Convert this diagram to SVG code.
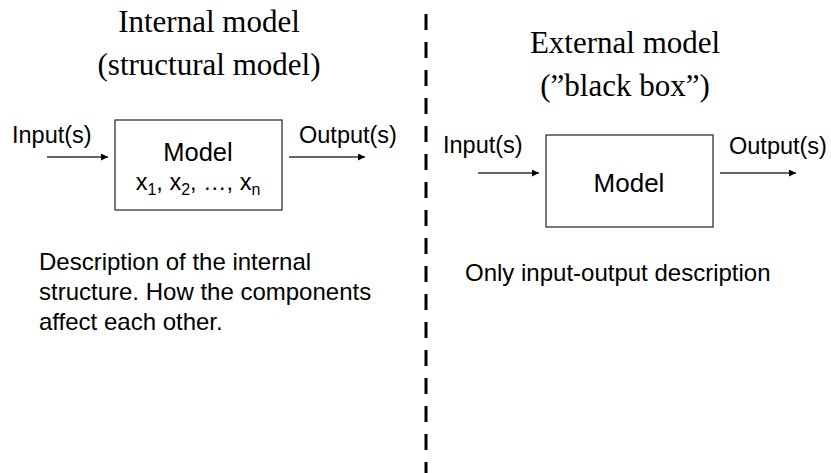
<svg xmlns="http://www.w3.org/2000/svg" width="831" height="473" viewBox="0 0 831 473">
<defs>
<style>
.serif{font-family:"Liberation Serif","Times New Roman",serif;fill:#000;}
.sans{font-family:"Liberation Sans",Arial,sans-serif;fill:#000;}
.box{fill:#fff;stroke:#333;stroke-width:1.3;}
.arrow{stroke:#333;stroke-width:1.3;fill:none;marker-end:url(#ah);}
</style>
<marker id="ah" viewBox="0 0 10 10" refX="10" refY="5" markerWidth="7" markerHeight="7" markerUnits="userSpaceOnUse" orient="auto">
<path d="M0,0 L10,5 L0,10 z" fill="#000"/>
</marker>
</defs>
<rect width="831" height="473" fill="#fff"/>
<line x1="426" y1="14" x2="426" y2="473" stroke="#000" stroke-width="3" stroke-dasharray="16 12"/>
<g id="titles">
<text class="serif" x="209" y="32" font-size="31" text-anchor="middle">Internal model</text>
<text class="serif" x="209" y="75" font-size="31" text-anchor="middle">(structural model)</text>
<text class="serif" x="625" y="53" font-size="31" text-anchor="middle">External model</text>
<text class="serif" x="625" y="96" font-size="31" text-anchor="middle">(”black box”)</text>
</g>
<g id="left-model">
<rect class="box" x="115" y="120" width="167" height="90"/>
<text class="sans" x="198" y="161" font-size="25.5" text-anchor="middle">Model</text>
<text class="sans" x="198" y="190" font-size="23.5" text-anchor="middle">x<tspan font-size="16" dy="5">1</tspan><tspan dy="-5">, x</tspan><tspan font-size="16" dy="5">2</tspan><tspan dy="-5">, …, x</tspan><tspan font-size="16" dy="5">n</tspan></text>
</g>
<g id="right-model">
<rect class="box" x="546" y="135" width="167" height="92"/>
<text class="sans" x="629" y="192" font-size="26" text-anchor="middle">Model</text>
</g>
<g id="labels">
<text class="sans" x="12" y="143" font-size="23.5">Input(s)</text>
<text class="sans" x="299" y="143" font-size="23.5">Output(s)</text>
<text class="sans" x="443" y="153" font-size="23.5">Input(s)</text>
<text class="sans" x="729" y="154" font-size="23.5">Output(s)</text>
</g>
<g id="connectors">
<line class="arrow" x1="47" y1="157" x2="108" y2="157"/>
<line class="arrow" x1="289" y1="157" x2="365" y2="157"/>
<line class="arrow" x1="478" y1="173" x2="539" y2="173"/>
<line class="arrow" x1="720" y1="173" x2="796" y2="173"/>
</g>
<g id="descriptions">
<text class="sans" x="39" y="270" font-size="24">Description of the internal</text>
<text class="sans" x="39" y="300" font-size="24">structure. How the components</text>
<text class="sans" x="39" y="330" font-size="24">affect each other.</text>
<text class="sans" x="465" y="281" font-size="24">Only input-output description</text>
</g>
</svg>
